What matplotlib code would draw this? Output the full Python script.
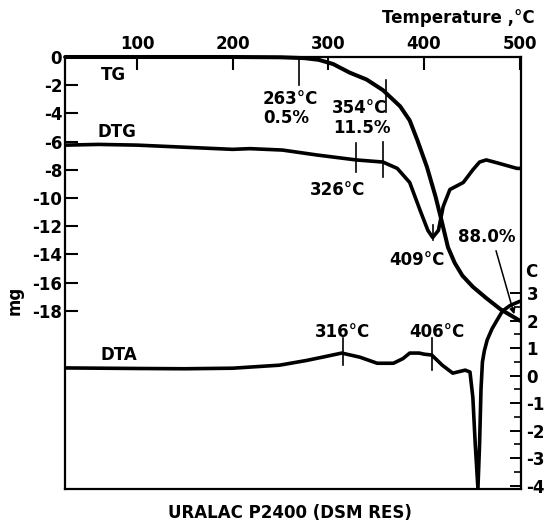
import numpy as np
import matplotlib
matplotlib.use("Agg")
import matplotlib.pyplot as plt

plt.rcParams['font.family'] = ['DejaVu Sans']
plt.rcParams['font.weight'] = 'bold'
plt.rcParams['axes.unicode_minus'] = False

# ---- data ----
tg_T = [25, 100, 200, 250, 275, 290, 305, 322, 340, 357, 375, 385, 393, 403, 412,
        419, 425, 432, 440, 451, 465, 480, 490, 500]
tg_mg = [0, 0, 0, -0.02, -0.08, -0.2, -0.5, -1.1, -1.6, -2.35, -3.5, -4.5, -5.9,
         -7.8, -9.9, -11.8, -13.5, -14.6, -15.5, -16.3, -17.1, -17.9, -18.3, -18.7]

dtg_T = [25, 60, 100, 150, 200, 218, 252, 288, 329, 357, 372, 385, 396, 404, 409,
         415, 420, 427, 441, 451, 458, 465, 476, 497, 500]
dtg_mg = [-6.25, -6.2, -6.25, -6.4, -6.55, -6.5, -6.6, -6.95, -7.3, -7.45, -7.9,
          -8.9, -10.9, -12.3, -12.8, -12.3, -10.6, -9.4, -8.9, -8.0, -7.45, -7.3,
          -7.5, -7.9, -7.9]

dta_T = [25, 100, 150, 200, 249, 277, 295, 314, 333, 351, 368, 378, 385, 395, 400,
         408, 419, 430, 443, 448, 451, 453.5, 456.3, 458, 459.5, 461, 463, 466, 471,
         476, 482, 490, 500]
dta_C = [0.28, 0.26, 0.25, 0.27, 0.38, 0.55, 0.68, 0.82, 0.67, 0.45, 0.45, 0.62,
         0.82, 0.82, 0.78, 0.75, 0.38, 0.09, 0.2, 0.13, -0.8, -2.5, -4.1, -2.5, -0.5,
         0.5, 0.9, 1.3, 1.7, 2.0, 2.35, 2.55, 2.7]

temp_ticks = [100, 200, 300, 400, 500]
mg_ticks = [0, -2, -4, -6, -8, -10, -12, -14, -16, -18]
c_ticks = [3, 2, 1, 0, -1, -2, -3, -4]

FS = 12

fig = plt.figure(figsize=(5.44, 5.28), dpi=100)
ax = fig.add_axes([65/544, 1-489/528, 456/544, 432/528])
ax.set_xlim(24.8, 501.3)
ax.set_ylim(-30.64, 0)
ax2 = ax.twinx()
ax2.set_ylim(-4.12, 11.58)

lw = 2.6
ax.plot(tg_T, tg_mg, color='black', lw=lw + 0.3, solid_capstyle='round', clip_on=False)
ax.plot(dtg_T, dtg_mg, color='black', lw=lw, solid_capstyle='round')
ax2.plot(dta_T, dta_C, color='black', lw=lw, solid_capstyle='round', solid_joinstyle='round')

for s in ax.spines.values():
    s.set_linewidth(1.6)
for s in ax2.spines.values():
    s.set_visible(False)

ax.xaxis.tick_top()
ax.set_xticks(temp_ticks)
ax.set_xticklabels([str(t) for t in temp_ticks])
ax.tick_params(axis='x', direction='in', length=9, width=1.5, pad=3, labelsize=FS,
               top=True, bottom=False)
ax.set_yticks(mg_ticks)
ax.set_yticklabels([str(v) for v in mg_ticks])
ax.tick_params(axis='y', direction='in', length=9, width=1.5, pad=2, labelsize=FS)

ax2.set_yticks(c_ticks)
ax2.set_yticklabels([str(v) for v in c_ticks])
ax2.set_yticks([v + 0.5 for v in c_ticks[1:]], minor=True)
ax2.tick_params(axis='y', which='major', direction='in', length=8, width=1.4, pad=4,
                labelsize=FS)
ax2.tick_params(axis='y', which='minor', direction='in', length=5, width=1.2)

# annotation ticks
tk = dict(color='black', lw=1.2)
ax.plot([269, 269], [-0.2, -2.0], **tk)
ax.plot([360, 360], [-1.6, -3.9], **tk)
ax.plot([329, 329], [-6.1, -8.15], **tk)
ax.plot([357, 357], [-6.0, -8.5], **tk)
ax.plot([409.5, 409.5], [-11.9, -13.0], **tk)
ax2.plot([315, 315], [1.36, 0.38], **tk)
ax2.plot([408, 408], [1.36, 0.2], **tk)

# labels
ax.text(74.9, -1.28, 'TG', ha='center', va='center', fontsize=FS)
ax.text(79, -5.3, 'DTG', ha='center', va='center', fontsize=FS)
ax2.text(81, 0.75, 'DTA', ha='center', va='center', fontsize=FS)
ax.text(231.7, -2.98, '263°C', ha='left', va='center', fontsize=FS)
ax.text(231.7, -4.33, '0.5%', ha='left', va='center', fontsize=FS)
ax.text(303.8, -3.62, '354°C', ha='left', va='center', fontsize=FS)
ax.text(304.8, -5.04, '11.5%', ha='left', va='center', fontsize=FS)
ax.text(310, -9.43, '326°C', ha='center', va='center', fontsize=FS)
ax.text(392.6, -14.4, '409°C', ha='center', va='center', fontsize=FS)
ax.text(465.7, -12.77, '88.0%', ha='center', va='center', fontsize=FS)
ax2.text(315.2, 1.58, '316°C', ha='center', va='center', fontsize=FS)
ax2.text(413.5, 1.58, '406°C', ha='center', va='center', fontsize=FS)
ax.annotate('', xy=(495.0, -18.44), xytext=(474.4, -13.55),
            arrowprops=dict(arrowstyle='-|>', color='black', lw=1.1,
                            mutation_scale=8))

fig.text(531/544, 1-272/528, 'C', ha='center', va='center', fontsize=FS)
fig.text(458/544, 1-18/528, 'Temperature ,°C', ha='center', va='center', fontsize=FS)
fig.text(15/544, 1-300/528, 'mg', ha='center', va='center', rotation=90, fontsize=FS)
fig.text(290/544, 1-513/528, 'URALAC P2400 (DSM RES)', ha='center', va='center',
         fontsize=FS)

fig.savefig('out.png', dpi=100)
